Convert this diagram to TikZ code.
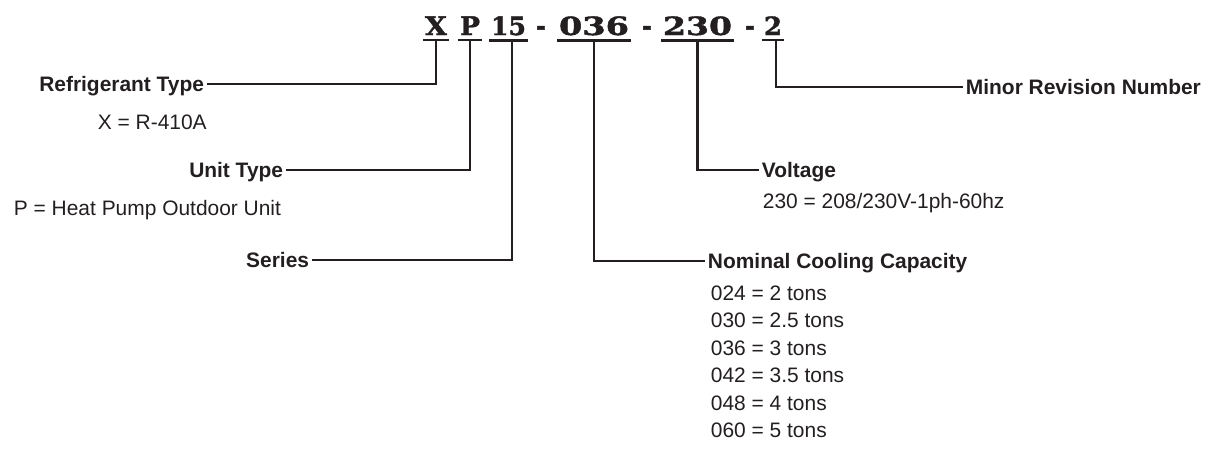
\documentclass[tikz,border=0pt]{standalone}
\usepackage{fontspec}
\setmainfont{Liberation Sans}
\newfontfamily\codefont{DejaVu Serif}[BoldFeatures={FakeBold=1.5}]
\usetikzlibrary{positioning}
\definecolor{ink}{HTML}{231F20}
\newcommand{\codebox}[2]{\resizebox{#1}{14pt}{#2}}
\tikzset{
  code/.style={anchor=base,inner xsep=1.2pt,inner ysep=3.75pt,font=\codefont\bfseries\fontsize{18.5}{20}\selectfont,text=ink},
  fieldname/.style={inner xsep=2pt,inner ysep=0pt,text height=11.2pt,text depth=0pt,font=\bfseries\fontsize{15.7}{20}\selectfont,text=ink},
  fieldval/.style={fieldname,font=\fontsize{15.7}{20}\selectfont},
  lead/.style={draw=ink,line width=1.8pt}
}

\begin{document}
\begin{tikzpicture}[x=0.75pt,y=-0.75pt]
  \useasboundingbox (0,0) rectangle (1225,455);
  % model code
  \node[code] (cX) at (436,35) {\codebox{16.5pt}{X}};
  \node[code] (cP) at (470,35) {\codebox{15pt}{P}};
  \node[code] (c15) at (508.5,35) {\codebox{26.25pt}{15}};
  \node[code,font=\codefont\bfseries\fontsize{20}{20}\selectfont] (h1) at (541,35) {\scalebox{0.9}[1]{-}};
  \node[code] (c036) at (594,35) {\codebox{52.5pt}{036}};
  \node[code,font=\codefont\bfseries\fontsize{20}{20}\selectfont] (h2) at (647,35) {\scalebox{0.9}[1]{-}};
  \node[code] (c230) at (697.5,35) {\codebox{51.75pt}{230}};
  \node[code,font=\codefont\bfseries\fontsize{20}{20}\selectfont] (h3) at (750,35) {\scalebox{0.9}[1]{-}};
  \node[code] (c2) at (773,35) {\codebox{13.5pt}{2}};
  \foreach \c in {cX,cP,c15,c036,c230,c2}
    \draw[lead] (\c.south west) -- (\c.south east);

  % left side fields
  \node[fieldname,anchor=east] (rt) at (207,84) {Refrigerant Type};
  \node[fieldval,anchor=west] (rtv) at (95,122) {X = R-410A};
  \node[fieldname,anchor=east] (ut) at (286,170) {Unit Type};
  \node[fieldval,anchor=west] (utv) at (11,208) {P = Heat Pump Outdoor Unit};
  \node[fieldname,anchor=east] (se) at (312,260) {Series};

  % right side fields
  \node[fieldname,anchor=west] (nc) at (705,261) {Nominal Cooling Capacity};
  \foreach \txt [count=\i] in {024 = 2 tons,030 = 2.5 tons,036 = 3 tons,042 = 3.5 tons,048 = 4 tons,060 = 5 tons}
    \node[fieldval,anchor=west] (cap\i) at (708,{265.5+27.5*\i}) {\txt};
  \node[fieldname,anchor=west] (vo) at (759,170) {Voltage};
  \node[fieldval,anchor=west] (vov) at (760,201) {230 = 208/230V-1ph-60hz};
  \node[fieldname,anchor=west] (mr) at (963,87) {Minor Revision Number};

  % leaders
  \draw[lead] (cX.south) |- (rt.east);
  \draw[lead] (cP.south) |- (ut.east);
  \draw[lead] ([xshift=2.6pt]c15.south) |- (se.east);
  \draw[lead] (c036.south) |- (nc.west);
  \draw[lead] (c230.south) |- (vo.west);
  \draw[lead] ([xshift=2.2pt]c2.south) |- (mr.west);
\end{tikzpicture}
\end{document}
